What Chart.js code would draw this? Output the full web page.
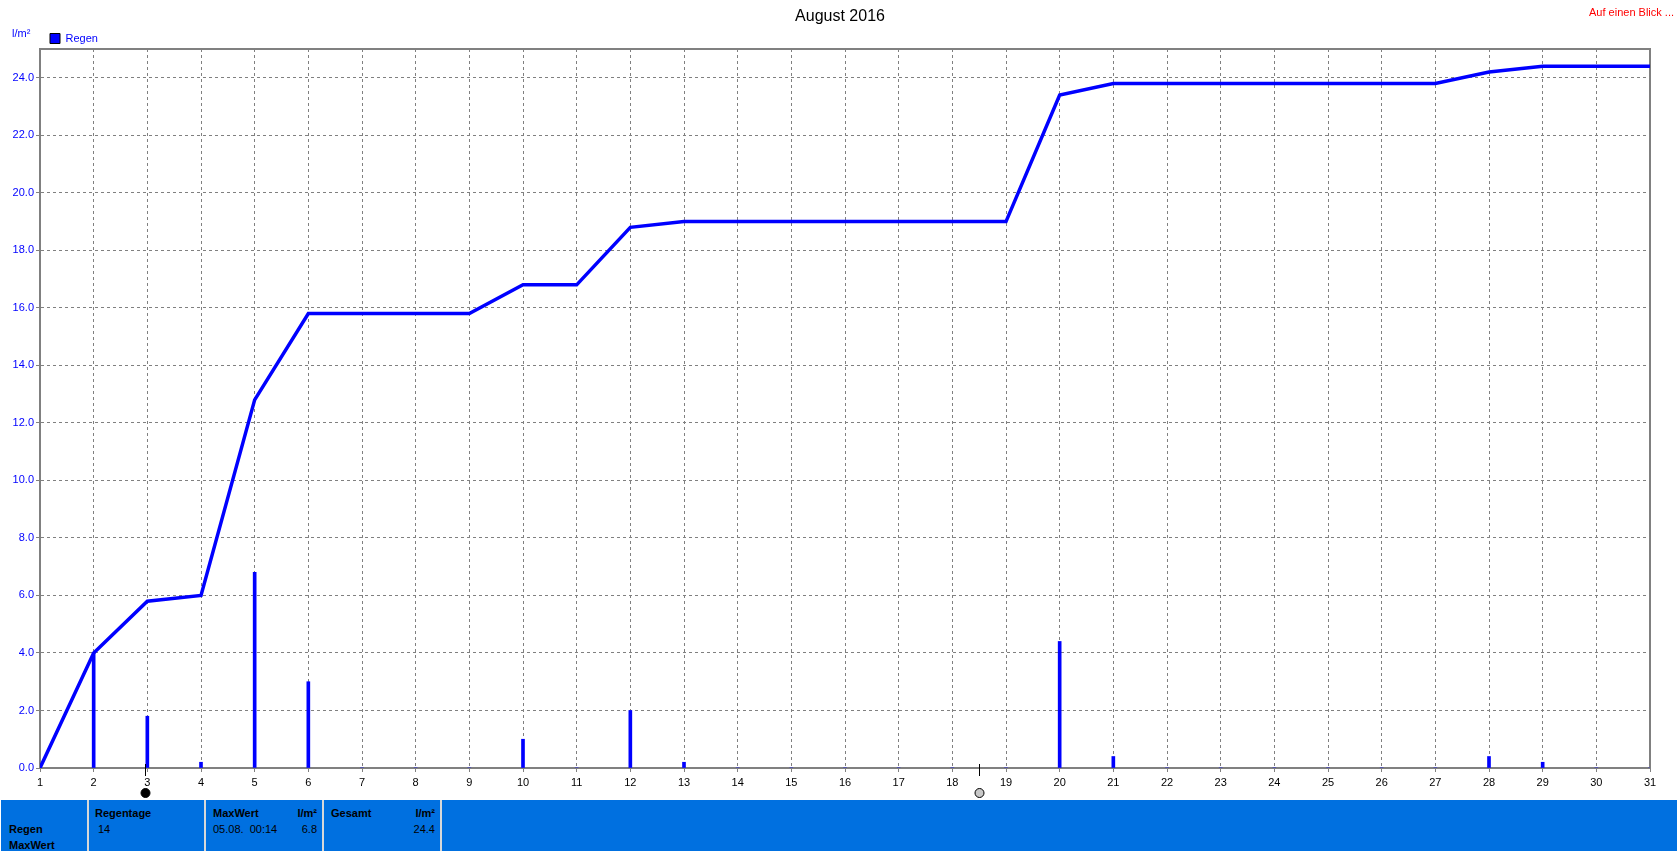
<!DOCTYPE html>
<html><head><meta charset="utf-8">
<style>
html,body{margin:0;padding:0;background:#fff;overflow:hidden}
#wrap{position:relative;width:1677px;height:851px}
canvas{position:absolute;left:0;top:0}
#foot{position:absolute;left:1px;top:800px;width:1676px;height:51px;background:#0070e0;overflow:hidden;font:11px "Liberation Sans",Arial,sans-serif;color:#000}
#foot .sep{position:absolute;top:0;width:2px;height:51px;background:#d8d8d8}
#foot .t{position:absolute;white-space:nowrap;line-height:13px}
#foot .b{font-weight:bold}
#foot .r{text-align:right}
</style>
<script src="https://cdn.jsdelivr.net/npm/chart.js@4"></script>
</head><body>
<div id="wrap"><canvas id="c" width="1677" height="851"></canvas>
<div id="foot">
<div class="sep" style="left:86px"></div><div class="sep" style="left:203px"></div><div class="sep" style="left:321px"></div><div class="sep" style="left:439px"></div>
<div class="t b" style="left:8px;top:23px">Regen</div>
<div class="t b" style="left:8px;top:39px">MaxWert</div>
<div class="t b" style="left:94px;top:7px">Regentage</div>
<div class="t" style="left:97px;top:23px">14</div>
<div class="t b" style="left:212px;top:7px">MaxWert</div>
<div class="t b r" style="left:270px;width:46px;top:7px">l/m²</div>
<div class="t" style="left:212px;top:23px">05.08.&nbsp; 00:14</div>
<div class="t r" style="left:270px;width:46px;top:23px">6.8</div>
<div class="t b" style="left:330px;top:7px">Gesamt</div>
<div class="t b r" style="left:388px;width:46px;top:7px">l/m²</div>
<div class="t r" style="left:388px;width:46px;top:23px">24.4</div>
</div></div>
<script>
const days = [1,2,3,4,5,6,7,8,9,10,11,12,13,14,15,16,17,18,19,20,21,22,23,24,25,26,27,28,29,30,31];
const dailyRain = [0,4.0,1.8,0.2,6.8,3.0,0,0,0,1.0,0,2.0,0.2,0,0,0,0,0,0,4.4,0.4,0,0,0,0,0,0,0.4,0.2,0,0];
const totalRain = [0,4.0,5.8,6.0,12.8,15.8,15.8,15.8,15.8,16.8,16.8,18.8,19.0,19.0,19.0,19.0,19.0,19.0,19.0,23.4,23.8,23.8,23.8,23.8,23.8,23.8,23.8,24.2,24.4,24.4,24.4];
const moonDays = [2.96,18.49];
const BLUE = '#0000ff', GREY = '#808080';
const FONT = '"Liberation Sans",Arial,sans-serif';

const frame = {
  id:'frame',
  afterLayout(ch){ ch.legend.left = 46; ch.legend.top += 5; ch.titleBlock.right = 1680; ch.titleBlock.top += 1; },
  beforeDatasetsDraw(ch){
    const a = ch.chartArea, c = ch.ctx;
    c.save(); c.strokeStyle = GREY; c.lineWidth = 2;
    c.strokeRect(a.left, a.top, a.right-a.left, a.bottom-a.top);
    c.restore();
  },
  afterDraw(ch){
    const c = ch.ctx, a = ch.chartArea, x = ch.scales.x;
    c.save();
    c.fillStyle = BLUE; c.font = '11px '+FONT; c.textAlign='left'; c.textBaseline='middle';
    c.fillText('l/m²', 12, 33.5);
    c.fillStyle = '#ff0000'; c.textAlign='right';
    c.fillText('Auf einen Blick ...', 1674, 13);
    moonDays.forEach((d,i)=>{
      const px = Math.round(x.getPixelForValue(d))+0.5;
      c.strokeStyle='#000'; c.lineWidth=1;
      c.beginPath(); c.moveTo(px,a.bottom-4); c.lineTo(px,a.bottom+8); c.stroke();
      c.beginPath(); c.arc(px,793,4.5,0,Math.PI*2);
      c.fillStyle = i===0 ? '#000' : '#c8c8c8'; c.fill(); c.stroke();
    });
    c.restore();
  }
};

new Chart(document.getElementById('c'),{
  data:{
    labels:days,
    datasets:[
      {type:'bar',label:'Regen',data:days.map((d,i)=>({x:d,y:dailyRain[i]})),backgroundColor:BLUE,borderColor:'#000',borderWidth:0,barThickness:3,order:2},
      {type:'line',label:'Summe',data:days.map((d,i)=>({x:d,y:totalRain[i]})),borderColor:BLUE,backgroundColor:BLUE,borderWidth:3.5,pointRadius:0,tension:0,order:1}
    ]
  },
  options:{
    responsive:false,animation:false,
    layout:{padding:{left:0,right:27,top:0,bottom:51}},
    plugins:{
      tooltip:{enabled:false},
      title:{display:true,text:'August 2016',color:'#000',font:{family:FONT,size:16,weight:'normal',lineHeight:1},padding:{top:8,bottom:0}},
      legend:{display:true,position:'top',align:'start',
        labels:{filter:i=>i.datasetIndex===0,boxWidth:10,boxHeight:10,padding:4,color:BLUE,
          font:{family:FONT,size:11,lineHeight:12/11},
          generateLabels(ch){return [{text:'Regen',fillStyle:BLUE,strokeStyle:'#000',lineWidth:1,datasetIndex:0,fontColor:BLUE}];}}}
    },
    scales:{
      x:{type:'linear',min:1,max:31,offset:false,
        afterFit(s){s.height=32;},
        ticks:{stepSize:1,color:'#000',font:{family:FONT,size:11},maxRotation:0,autoSkip:false,padding:4,includeBounds:false,callback:v=>String(v)},
        grid:{offset:false,color:GREY,lineWidth:1,tickLength:4,tickColor:GREY},
        border:{color:GREY,width:2,dash:[3,3]}},
      y:{type:'linear',min:0,max:25,
        afterFit(s){s.width=40;},
        ticks:{stepSize:2,color:BLUE,font:{family:FONT,size:11},padding:2,includeBounds:false,callback:v=>v.toFixed(1)},
        grid:{color:GREY,lineWidth:1,tickLength:4,tickColor:GREY},
        border:{color:GREY,width:2,dash:[3,3]}}
    }
  },
  plugins:[frame]
});
</script>
</body></html>
